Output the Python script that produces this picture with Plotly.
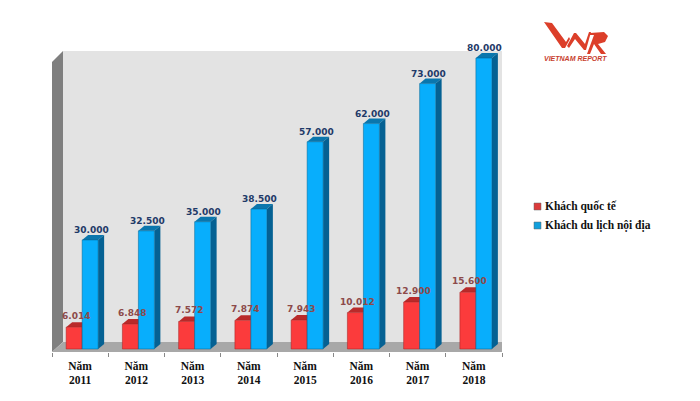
import plotly.graph_objects as go

years = ["2011", "2012", "2013", "2014", "2015", "2016", "2017", "2018"]
categories = ["Năm<br>" + y for y in years]
intl_values = [6014, 6848, 7572, 7874, 7943, 10012, 12900, 15600]
dom_values = [30000, 32500, 35000, 38500, 57000, 62000, 73000, 80000]
intl_name = "Khách quốc tế"
dom_name = "Khách du lịch nội địa"
fmt = lambda v: f"{v:,}".replace(",", ".")

W, H = 700, 401
L, R, T, B = 52, 198, 30, 49
UNITS_PER_PX = 275.0
PX_PER_CAT = (W - L - R) / 8
ZERO_PX = 349
dx = 6 / PX_PER_CAT
dy = 5 * UNITS_PER_PX
bw = 16 / PX_PER_CAT
off_r, off_b = -14 / PX_PER_CAT, 2 / PX_PER_CAT
ymin = -(H - B - ZERO_PX) * UNITS_PER_PX
ymax = (ZERO_PX - T) * UNITS_PER_PX


def yv(px):
    return (ZERO_PX - px) * UNITS_PER_PX


def xv(px):
    return (px - L) / PX_PER_CAT - 0.5


def poly(pts, fill, layer="below", ref=("x", "y")):
    path = "M " + " L ".join(f"{a},{b}" for a, b in pts) + " Z"
    return dict(type="path", path=path, fillcolor=fill, layer=layer,
                line=dict(width=0), xref=ref[0], yref=ref[1])


shapes = [
    poly([(xv(63), yv(51)), (xv(513), yv(51)), (xv(513), yv(342)), (xv(63), yv(342))], "#e3e3e3"),
    poly([(xv(52), yv(62)), (xv(63), yv(51)), (xv(63), yv(342)), (xv(52), yv(352))], "#7f7f7f"),
    poly([(xv(52), yv(352)), (xv(63), yv(342)), (xv(513), yv(342)), (xv(502), yv(352))], "#a8a8a8"),
]

for i, (r, b) in enumerate(zip(intl_values, dom_values)):
    for val, off, top, side in ((r, off_r, "#b92a2a", "#8f1f1f"), (b, off_b, "#0a76ad", "#056193")):
        x0, x1 = i + off, i + off + bw
        shapes.append(poly([(x0, val), (x0 + dx, val + dy), (x1 + dx, val + dy), (x1, val)], top))
        shapes.append(poly([(x1, val), (x1 + dx, val + dy), (x1 + dx, dy), (x1, 0)], side))

fig = go.Figure()
fig.add_bar(x=categories, y=intl_values, name=intl_name, width=bw, offset=off_r,
            marker=dict(color="#fb3b3c", line=dict(width=0.5, color="#a02020")))
fig.add_bar(x=categories, y=dom_values, name=dom_name, width=bw, offset=off_b,
            marker=dict(color="#08aefc", line=dict(width=0.5, color="#05608f")))

annotations = []
for i, (r, b) in enumerate(zip(intl_values, dom_values)):
    annotations.append(dict(x=i + off_r + bw / 2 + 2 / PX_PER_CAT, y=r, yshift=11, text=fmt(r), showarrow=False,
                            font=dict(family="DejaVu Sans", size=9, color="#8c4a4a", weight="bold")))
    annotations.append(dict(x=i + off_b + bw / 2 + 1 / PX_PER_CAT, y=b, yshift=10, text=fmt(b), showarrow=False,
                            font=dict(family="DejaVu Sans", size=9, color="#1f3a68", weight="bold")))


# paper coordinates relative to plot area
def pa_x(x):
    return (x - L) / (W - L - R)


def pa_y(y):
    return (H - B - y) / (H - T - B)


for y, name, col in ((206.5, intl_name, "#dc3b3b"), (225.5, dom_name, "#119fdc")):
    shapes.append(dict(type="rect", xref="paper", yref="paper", x0=pa_x(534), x1=pa_x(541),
                       y0=pa_y(y + 3.5), y1=pa_y(y - 3.5), fillcolor=col, line=dict(width=0.5, color="#666666")))
    annotations.append(dict(xref="paper", yref="paper", x=pa_x(543), y=pa_y(y), xanchor="left", yanchor="middle",
                            text=name, showarrow=False,
                            font=dict(family="Liberation Serif", size=11.5, color="#111111", weight="bold")))

# logo
logo_red = "#dc3f2a"
logo_paths = [
    [(544, 22), (552, 23), (566, 42), (569, 37), (570, 39), (565, 48), (562, 48)],
    [(567, 46), (574, 33), (576, 33), (585, 44), (589, 32), (591, 32), (586, 50), (584, 50), (575, 39), (569, 48)],
    [(590, 33), (604, 32), (608, 36), (605, 42), (598, 44), (606, 54), (601, 54), (594, 44), (590, 54), (587, 54),
     (594, 35), (590, 35)],
]
for p in logo_paths:
    shapes.append(poly([(pa_x(a), pa_y(b)) for a, b in p], logo_red, layer="above", ref=("paper", "paper")))
annotations.append(dict(xref="paper", yref="paper", x=pa_x(575.5), y=pa_y(58), xanchor="center", yanchor="middle",
                        text="VIETNAM REPORT", showarrow=False,
                        font=dict(family="Liberation Sans", size=7, color="#c8402e", weight="bold", style="italic")))

fig.update_layout(
    width=W, height=H, autosize=False, showlegend=False,
    margin=dict(l=L, r=R, t=T, b=B, pad=0),
    paper_bgcolor="white", plot_bgcolor="rgba(0,0,0,0)",
    barmode="overlay", shapes=shapes, annotations=annotations,
    xaxis=dict(type="category", range=[-0.5, 7.5], tickson="boundaries", ticks="outside", ticklen=4, tickwidth=1,
               tickcolor="#888888", showgrid=False, zeroline=False, showline=False,
               tickangle=0, ticklabelstandoff=5,
               tickfont=dict(family="Liberation Serif", size=11.5, color="#111111", weight="bold")),
    yaxis=dict(range=[ymin, ymax], visible=False, showgrid=False, zeroline=False),
)
fig.write_html("out.html", config=dict(displayModeBar=False), post_script="document.body.style.margin='0';")
